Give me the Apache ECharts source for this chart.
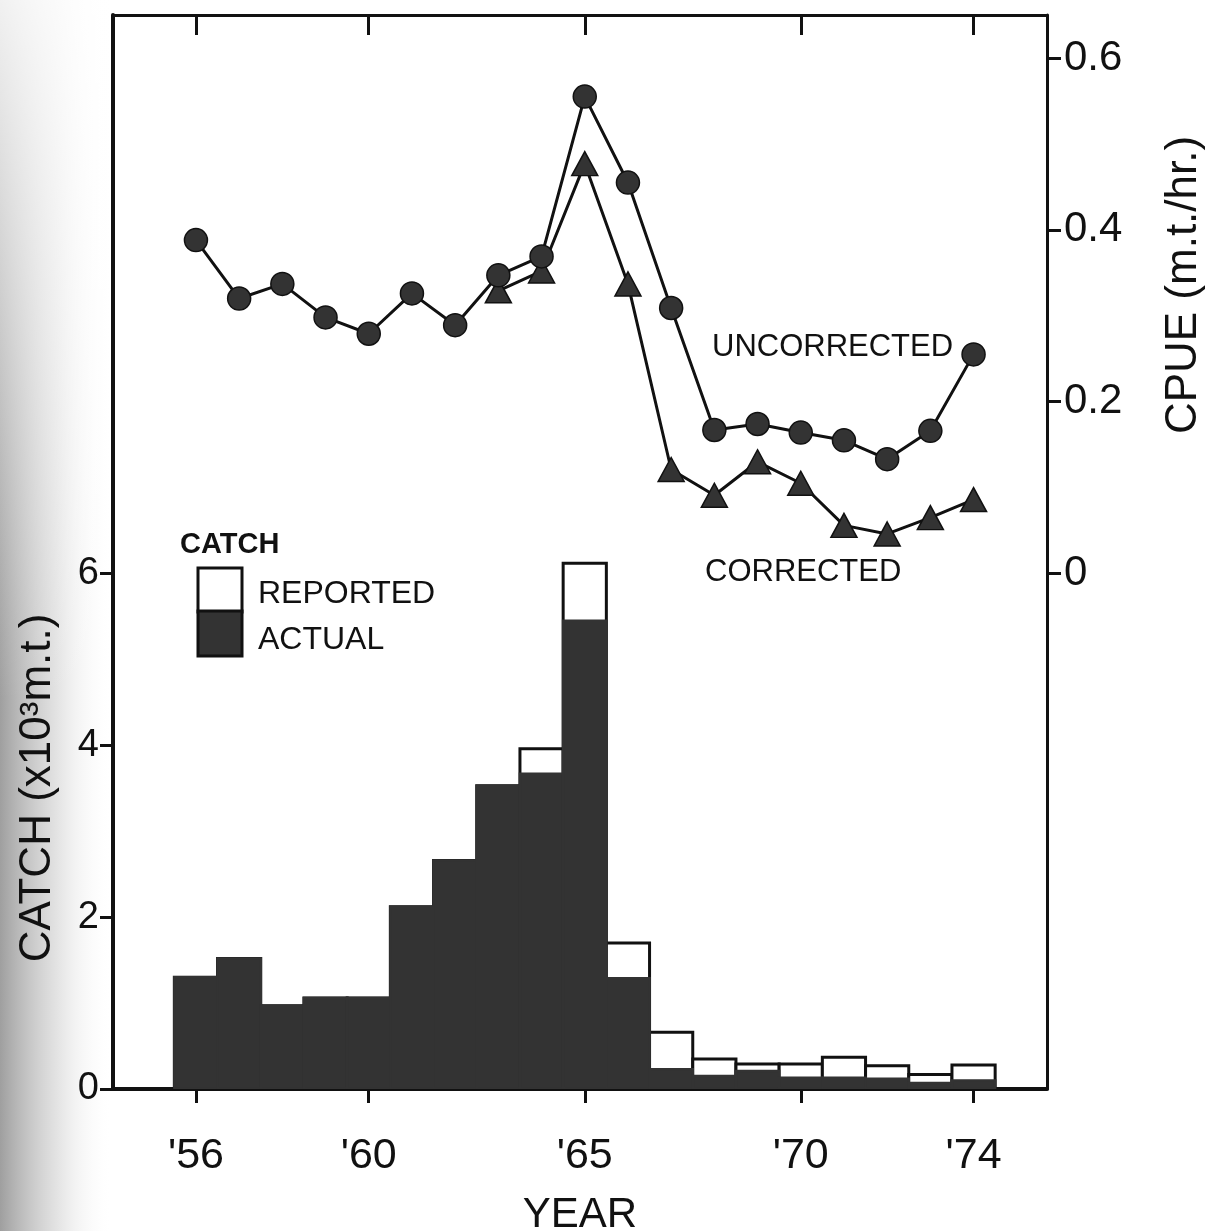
<!DOCTYPE html>
<html>
<head>
<meta charset="utf-8">
<script src="https://cdn.jsdelivr.net/npm/echarts@6/dist/echarts.min.js"></script>
<style>
  html, body { margin: 0; padding: 0; background: #fff; }
  #chart { width: 1206px; height: 1231px; }
</style>
</head>
<body>
<div id="chart"></div>
<script>
// Catch (thousand metric tons) and catch per unit effort, 1956-1974
const years = [1956, 1957, 1958, 1959, 1960, 1961, 1962, 1963, 1964, 1965,
               1966, 1967, 1968, 1969, 1970, 1971, 1972, 1973, 1974];
const catchReported = [1.30, 1.52, 0.97, 1.06, 1.06, 2.12, 2.66, 3.53, 3.96, 6.12,
                       1.70, 0.66, 0.35, 0.29, 0.29, 0.37, 0.27, 0.17, 0.28];
const catchActual   = [1.30, 1.52, 0.97, 1.06, 1.06, 2.12, 2.66, 3.53, 3.67, 5.45,
                       1.29, 0.23, 0.15, 0.21, 0.13, 0.13, 0.12, 0.07, 0.10];
const cpueUncorrected = [0.388, 0.320, 0.337, 0.298, 0.279, 0.326, 0.289, 0.347, 0.369, 0.555,
                         0.455, 0.309, 0.167, 0.174, 0.164, 0.155, 0.133, 0.166, 0.255];
const correctedYears = [1963, 1964, 1965, 1966, 1967, 1968, 1969, 1970, 1971, 1972, 1973, 1974];
const cpueCorrected  = [0.329, 0.352, 0.477, 0.337, 0.121, 0.091, 0.130, 0.105, 0.056, 0.046, 0.065, 0.086];

const yearTicks = [1956, 1960, 1965, 1970, 1974];
const catchTicks = [0, 2, 4, 6];
const cpueTicks = [0, 0.2, 0.4, 0.6];

const INK = '#111';
const FILL = '#333';
const FONT = "'Liberation Sans', Helvetica, Arial, sans-serif";

const chart = echarts.init(document.getElementById('chart'), null, { renderer: 'canvas' });

// one rectangle per year, spanning the whole year on the value axis
function stepBar(values, style) {
  return function (params, api) {
    const i = params.dataIndex;
    const y = years[i];
    const p0 = api.coord([y - 0.5, values[i]]);
    const p1 = api.coord([y + 0.5, 0]);
    return {
      type: 'rect',
      shape: { x: p0[0], y: p0[1], width: p1[0] - p0[0], height: p1[1] - p0[1] },
      style: style
    };
  };
}

const option = {
  backgroundColor: '#fff',
  animation: false,
  grid: { left: 113, right: 159, top: 15, bottom: 142, containLabel: false, outerBoundsMode: 'none' },
  xAxis: [
    {
      type: 'value', position: 'bottom', min: 1954.08, max: 1975.7,
      name: 'YEAR', nameLocation: 'middle', nameGap: 105,
      nameTextStyle: { fontFamily: FONT, fontSize: 42, color: INK },
      axisLine: { show: true, onZero: false, lineStyle: { color: INK, width: 4 } },
      axisTick: { show: true, inside: false, length: 14, lineStyle: { color: INK, width: 3 }, customValues: yearTicks },
      axisLabel: {
        show: true, margin: 46, fontFamily: FONT, fontSize: 43, color: INK,
        customValues: yearTicks,
        formatter: v => "'" + String(Math.round(v) % 100)
      },
      splitLine: { show: false }
    },
    {
      type: 'value', position: 'top', min: 1954.08, max: 1975.7,
      axisLine: { show: true, onZero: false, lineStyle: { color: INK, width: 3 } },
      axisTick: { show: true, inside: true, length: 20, lineStyle: { color: INK, width: 3 }, customValues: yearTicks },
      axisLabel: { show: false },
      splitLine: { show: false }
    }
  ],
  yAxis: [
    {
      type: 'value', position: 'left', min: 0, max: 12.5,
      axisLine: { show: true, onZero: false, lineStyle: { color: INK, width: 4 } },
      axisTick: { show: true, inside: false, length: 13, lineStyle: { color: INK, width: 3 }, customValues: catchTicks },
      axisLabel: { show: true, margin: 14, fontFamily: FONT, fontSize: 38, color: INK, customValues: catchTicks },
      splitLine: { show: false }
    },
    {
      type: 'value', position: 'right', min: -0.6, max: 0.65,
      axisLine: { show: true, onZero: false, lineStyle: { color: INK, width: 3 } },
      axisTick: { show: true, inside: false, length: 14, lineStyle: { color: INK, width: 3 }, customValues: cpueTicks },
      axisLabel: {
        show: true, margin: 17, fontFamily: FONT, fontSize: 42, color: INK, customValues: cpueTicks,
        formatter: v => (Math.abs(v) < 1e-9 ? '0' : v.toFixed(1))
      },
      splitLine: { show: false }
    }
  ],
  graphic: [
    // scanner shading along the left margin, fading out towards the top
    {
      type: 'rect', silent: true, z: -10,
      shape: { x: 0, y: 0, width: 112, height: 1231 },
      style: {
        fill: new echarts.graphic.LinearGradient(0, 0, 1, 0, [
          { offset: 0, color: 'rgba(80,80,80,0.55)' },
          { offset: 0.5, color: 'rgba(140,140,140,0.25)' },
          { offset: 1, color: 'rgba(255,255,255,0)' }
        ])
      }
    },
    {
      type: 'rect', silent: true, z: -9,
      shape: { x: 0, y: 0, width: 112, height: 700 },
      style: {
        fill: new echarts.graphic.LinearGradient(0, 0, 0, 1, [
          { offset: 0, color: 'rgba(255,255,255,0.85)' },
          { offset: 1, color: 'rgba(255,255,255,0)' }
        ])
      }
    },
    {
      type: 'text', x: 38, y: 788, rotation: Math.PI / 2,
      style: { text: 'CATCH (x10³m.t.)', font: "44px " + FONT, fill: INK, align: 'center', verticalAlign: 'middle' }
    },
    {
      type: 'text', x: 1184, y: 285, rotation: Math.PI / 2,
      style: { text: 'CPUE (m.t./hr.)', font: "44px " + FONT, fill: INK, align: 'center', verticalAlign: 'middle' }
    },
    {
      type: 'text', x: 712, y: 347,
      style: { text: 'UNCORRECTED', font: "31px " + FONT, fill: INK, align: 'left', verticalAlign: 'middle' }
    },
    {
      type: 'text', x: 705, y: 572,
      style: { text: 'CORRECTED', font: "31px " + FONT, fill: INK, align: 'left', verticalAlign: 'middle' }
    },
    // legend for the catch bars
    {
      type: 'text', x: 180, y: 545,
      style: { text: 'CATCH', font: "bold 29px " + FONT, fill: INK, align: 'left', verticalAlign: 'middle' }
    },
    {
      type: 'rect', shape: { x: 198, y: 568, width: 44, height: 44 },
      style: { fill: '#fff', stroke: INK, lineWidth: 3 }
    },
    {
      type: 'rect', shape: { x: 198, y: 611, width: 44, height: 45 },
      style: { fill: FILL, stroke: INK, lineWidth: 3 }
    },
    {
      type: 'text', x: 258, y: 594,
      style: { text: 'REPORTED', font: "32px " + FONT, fill: INK, align: 'left', verticalAlign: 'middle' }
    },
    {
      type: 'text', x: 258, y: 640,
      style: { text: 'ACTUAL', font: "32px " + FONT, fill: INK, align: 'left', verticalAlign: 'middle' }
    }
  ],
  series: [
    {
      name: 'Reported', type: 'custom', xAxisIndex: 0, yAxisIndex: 0, clip: true, z: 1,
      data: years.map((y, i) => [y, catchReported[i]]),
      renderItem: stepBar(catchReported, { fill: '#fff', stroke: INK, lineWidth: 3 })
    },
    {
      name: 'Actual', type: 'custom', xAxisIndex: 0, yAxisIndex: 0, clip: true, z: 2,
      data: years.map((y, i) => [y, catchActual[i]]),
      renderItem: stepBar(catchActual, { fill: FILL, stroke: FILL, lineWidth: 2.5 })
    },
    {
      name: 'Uncorrected', type: 'line', xAxisIndex: 0, yAxisIndex: 1, z: 4,
      data: years.map((y, i) => [y, cpueUncorrected[i]]),
      symbol: 'circle', symbolSize: 23,
      lineStyle: { color: INK, width: 3 },
      itemStyle: { color: FILL, borderColor: INK, borderWidth: 1.5 }
    },
    {
      name: 'Corrected', type: 'line', xAxisIndex: 0, yAxisIndex: 1, z: 3,
      data: correctedYears.map((y, i) => [y, cpueCorrected[i]]),
      symbol: 'triangle', symbolSize: [26, 24],
      lineStyle: { color: INK, width: 3 },
      itemStyle: { color: FILL, borderColor: INK, borderWidth: 1.5 }
    }
  ]
};

chart.setOption(option);
</script>
</body>
</html>
